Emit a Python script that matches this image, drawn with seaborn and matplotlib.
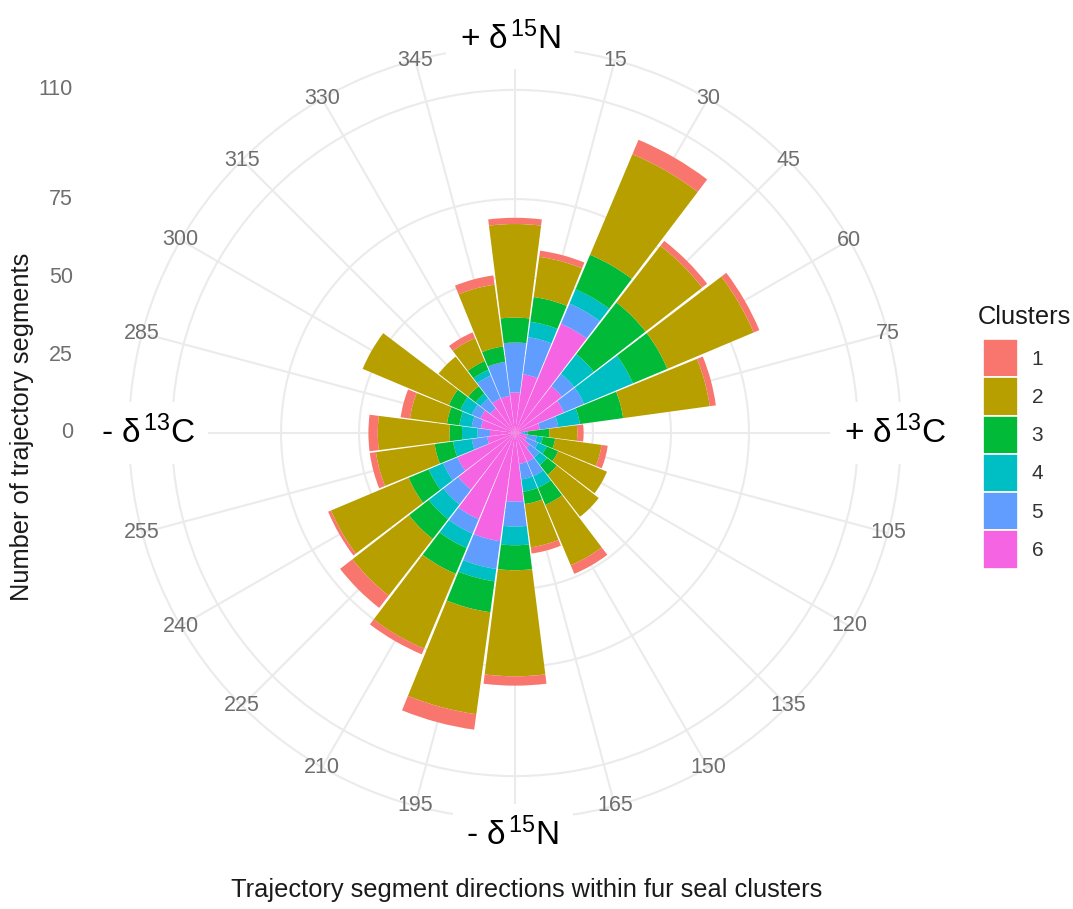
import numpy as np
import pandas as pd
import matplotlib
matplotlib.use("Agg")
import matplotlib.pyplot as plt
import seaborn as sns
from matplotlib.patches import Patch
from matplotlib import transforms

# Direction bins (degrees, clockwise from +d15N)
directions = list(range(0, 360, 15))

# Segment counts per direction bin for each cluster
cluster_1 = [2, 2, 5, 2, 2, 2, 2, 2, 0, 0, 3, 2, 3, 5, 2, 5, 1, 2, 3, 3, 0, 0, 2, 3]
cluster_2 = [30, 13, 35, 23, 30, 28, 9, 15, 17, 17, 21, 14, 34, 33, 26, 23, 27, 19, 23, 12, 30, 12, 8, 20]
cluster_3 = [8, 8, 12, 21, 12, 14, 7, 4, 4, 4, 6, 4, 8, 10, 9, 8, 7, 6, 4, 4, 4, 3, 3, 5]
cluster_4 = [0, 5, 5, 8, 17, 7, 1, 2, 3, 3, 4, 4, 6, 4, 5, 6, 5, 6, 5, 4, 4, 2, 2, 0]
cluster_5 = [16, 12, 7, 5, 7, 6, 1, 3, 4, 4, 5, 5, 8, 9, 5, 6, 5, 5, 4, 3, 3, 4, 8, 11]
cluster_6 = [13, 19, 38, 19, 17, 8, 2, 4, 4, 6, 10, 10, 22, 35, 30, 23, 20, 9, 8, 11, 12, 10, 12, 12]

cluster_names = ["1", "2", "3", "4", "5", "6"]
cluster_colors = ["#F8766D", "#B79F00", "#00BA38", "#00BFC4", "#619CFF", "#F564E3"]

radial_breaks = [0, 25, 50, 75, 110]
angle_ticks = [a for a in directions if a % 90 != 0]
axis_ends = [r"+ δ$^{\,15}$N", r"+ δ$^{\,13}$C", r"- δ$^{\,15}$N", r"- δ$^{\,13}$C"]
axis_end_angles = [-0.7, 90, 180.3, 270]
axis_end_radii = [123.2, 121.8, 132.0, 117.7]
axis_end_valign = ["baseline", "center", "baseline", "center"]

x_title = "Trajectory segment directions within fur seal clusters"
y_title = "Number of trajectory segments"
legend_title = "Clusters"

df = pd.DataFrame({"direction": directions,
                   "1": cluster_1, "2": cluster_2, "3": cluster_3,
                   "4": cluster_4, "5": cluster_5, "6": cluster_6})
long = df.melt(id_vars="direction", var_name="cluster", value_name="count")

sns.set_theme(style="white")
plt.rcParams["font.family"] = ["Liberation Sans", "DejaVu Sans"]
plt.rcParams["mathtext.fontset"] = "custom"
plt.rcParams["mathtext.rm"] = "Liberation Sans"
plt.rcParams["mathtext.it"] = "Liberation Sans:italic"
plt.rcParams["mathtext.bf"] = "Liberation Sans:bold"

palette = dict(zip(cluster_names, sns.color_palette(cluster_colors)))

W, H = 1073, 909
fig = plt.figure(figsize=(W / 100, H / 100), dpi=100)
cx, cy, R = 515, 433, 386
ax = fig.add_axes([(cx - R) / W, (H - cy - R) / H, 2 * R / W, 2 * R / H], projection="polar")

r_outer = 110 * 0.45 / 0.4
ax.set_theta_zero_location("N")
ax.set_theta_direction(-1)
ax.set_ylim(0, r_outer)
ax.set_axisbelow(True)
ax.set_facecolor("white")

grid_col = "#EBEBEB"
ax.set_xticks(np.deg2rad(directions))
ax.set_xticklabels([])
ax.set_yticks(radial_breaks)
ax.set_yticklabels([])
ax.tick_params(length=0)
ax.grid(True, color=grid_col, linewidth=1.5)
ax.spines["polar"].set_color(grid_col)
ax.spines["polar"].set_linewidth(1.5)

# Stacked bars: cluster 6 at the centre, cluster 1 on the outside
bin_w = np.deg2rad(15) * 0.955
bottom = np.zeros(len(directions))
for name in reversed(cluster_names):
    sub = long[long["cluster"] == name].sort_values("direction")
    vals = sub["count"].to_numpy(dtype=float)
    ax.bar(np.deg2rad(sub["direction"].to_numpy()), vals, width=bin_w, bottom=bottom,
           color=palette[name], edgecolor="none", linewidth=0, zorder=2)
    bottom += vals

tick_col = "#6e6e6e"
tick_fs = 15.5
title_fs = 18.3

# Angle labels sitting on the outer ring
for a in angle_ticks:
    ax.text(np.deg2rad(a), r_outer, str(a), ha="center", va="center",
            fontsize=tick_fs, color=tick_col, zorder=4)

# Isotope direction labels
for lab, a, rr, va in zip(axis_ends, axis_end_angles, axis_end_radii, axis_end_valign):
    ax.text(np.deg2rad(a), rr, lab, ha="center", va=va, fontsize=24,
            color="black", zorder=6,
            bbox=dict(boxstyle="square,pad=0.4", facecolor="white", edgecolor="none"))

# Radial axis labels along the left margin
trans = transforms.blended_transform_factory(fig.transFigure, ax.transAxes)
for v in radial_breaks:
    ax.text(73 / W, 0.5 + 0.5 * v / r_outer, str(v), transform=trans,
            ha="right", va="center", fontsize=tick_fs, color=tick_col)

fig.text(22 / W, 1 - 427 / H, y_title, rotation=90, ha="center", va="center",
         fontsize=title_fs, color="#1a1a1a")
fig.text(527 / W, 1 - 890 / H, x_title, ha="center", va="center",
         fontsize=title_fs, color="#1a1a1a")

# Legend: title text plus a column of colour keys
fig.text(978 / W, 1 - 317 / H, legend_title, ha="left", va="center",
         fontsize=title_fs, color="#1a1a1a")
handles = [Patch(facecolor=palette[n], edgecolor="white", linewidth=1.2, label=n)
           for n in cluster_names]
fs_leg = 15
fs_px = fs_leg * 100 / 72
leg = fig.legend(handles=handles, loc="upper left",
                 bbox_to_anchor=(983 / W, 1 - 339 / H), frameon=False,
                 fontsize=fs_leg,
                 handlelength=35 / fs_px, handleheight=2.45, labelspacing=0,
                 handletextpad=0.65, borderpad=0, borderaxespad=0)
for t in leg.get_texts():
    t.set_color("#333333")

fig.savefig("out.png", dpi=100, facecolor="white")
